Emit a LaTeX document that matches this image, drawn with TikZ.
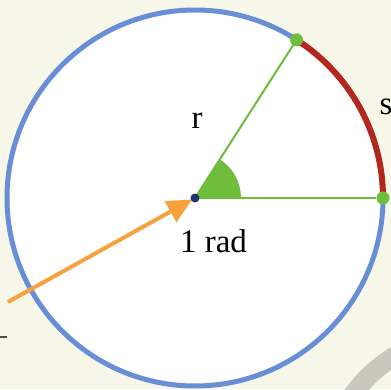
\documentclass[tikz,border=0pt]{standalone}
\usepackage{fontspec}
\setmainfont{Liberation Serif}
\usepackage{tikz}
\usetikzlibrary{arrows.meta, positioning, calc}

\definecolor{paper}{RGB}{246,247,232}
\definecolor{rimblue}{RGB}{104,142,214}
\definecolor{arcred}{RGB}{178,40,30}
\definecolor{leafgreen}{RGB}{110,190,60}
\definecolor{tipblue}{RGB}{30,52,110}
\definecolor{pointer}{RGB}{247,162,62}
\definecolor{greyband}{RGB}{200,200,190}

\begin{document}
\begin{tikzpicture}[
  x=1pt, y=1pt,
  dot/.style={circle, fill=leafgreen, inner sep=0pt, minimum size=13pt},
  hub/.style={circle, fill=tipblue, inner sep=0pt, minimum size=9pt},
  radius line/.style={leafgreen, line width=2pt},
  tag/.style={font=\fontsize{33}{38}\selectfont, inner sep=0pt, anchor=base},
  arrow/.style={-{Triangle[length=25pt, width=23pt]}, pointer, line width=4pt}
]

% Background
\useasboundingbox (0,0) rectangle (391,389);
\fill[paper] (0,0) rectangle (391,389);

% Circle
\coordinate (centre) at (195,191);
\fill[white] (centre) circle (188);
\fill[rimblue, even odd rule] (centre) circle (190.5) (centre) circle (185.5);
\fill[arcred] ($(centre)+(0:191)$) arc (0:57.3:191)
  -- ($(centre)+(57.3:185)$) arc (57.3:0:185) -- cycle;

% Nodes
\node (edge) [dot] at ($(centre)+(0:188)$) {};
\node (top) [dot] at ($(centre)+(57.3:188)$) {};
\coordinate (tail) at (8,87);

% Radii and angle
\fill[leafgreen] (centre) -- ++(0:46) arc (0:57.3:46) -- cycle;
\draw[radius line] (centre) -- (edge);
\draw[radius line] (centre) -- (top);

% Arrow
\draw[arrow, shorten >=3pt] (tail) -- (centre);
\node (hub) [hub] at (centre) {};

% Labels
\node (rtag) [tag] at (197,260) {r};
\node (stag) [tag] at (386,274) {s};
\node (radtag) [tag] at (213.5,137) {1 rad};

% Tick and corner band
\draw[black!70, line width=1.2pt] (0,52) -- (7,52);
\fill[greyband] (470,-91) ++(95:154.5) arc (95:175:154.5)
  -- ++(175:-19) arc (175:95:135.5) -- cycle;

\end{tikzpicture}
\end{document}
